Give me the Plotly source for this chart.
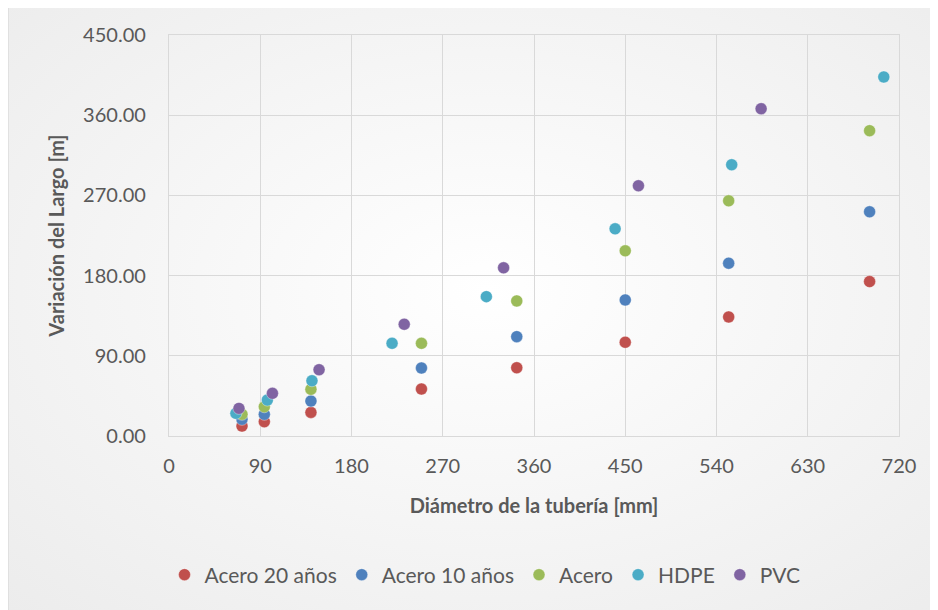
import base64
import plotly.graph_objects as go

# ---- data ----
x_acero = [72, 94, 140, 249, 343, 450, 552, 691]
y_acero20 = [11.1, 16.0, 26.5, 52.7, 76.6, 105.2, 133.6, 173.3]
y_acero10 = [18.7, 24.3, 39.2, 76.3, 111.5, 152.7, 193.9, 251.6]
y_acero = [24.3, 32.8, 52.4, 104.0, 151.6, 207.8, 263.9, 342.6]
x_hdpe = [66, 97, 141, 220, 313, 440, 555, 705]
y_hdpe = [25.4, 40.3, 62.0, 104.0, 156.4, 232.5, 304.4, 402.9]
x_pvc = [69, 102, 148, 232, 330, 463, 584]
y_pvc = [31.0, 47.9, 74.4, 125.4, 188.7, 280.8, 367.3]

series_names = ["Acero 20 años", "Acero 10 años", "Acero", "HDPE", "PVC"]
colors = ["#C0504D", "#4F81BD", "#9BBB59", "#4BACC6", "#8064A2"]
x_ticks = [0, 90, 180, 270, 360, 450, 540, 630, 720]
y_ticks = [0, 90, 180, 270, 360, 450]

FONT = "Lato"
TXT = "#595959"
GRID = "#d9d9d9"

series = [
    (x_acero, y_acero20),
    (x_acero, y_acero10),
    (x_acero, y_acero),
    (x_hdpe, y_hdpe),
    (x_pvc, y_pvc),
]

fig = go.Figure()
for (xs, ys), name, col in zip(series, series_names, colors):
    fig.add_trace(go.Scatter(
        x=xs, y=ys, mode="markers", name=name,
        marker=dict(size=12, color=col, line=dict(width=0.6, color="rgba(255,255,255,0.6)")),
    ))

# soft radial background like the Excel chart area
svg = (
    '<svg xmlns="http://www.w3.org/2000/svg" width="1000" height="700" preserveAspectRatio="none">'
    '<defs><radialGradient id="g" cx="50%" cy="45%" r="75%">'
    '<stop offset="0" stop-color="#ffffff"/><stop offset="1" stop-color="#ebebeb"/>'
    '</radialGradient></defs><rect width="1000" height="700" fill="url(#g)"/></svg>'
)
src = "data:image/svg+xml;base64," + base64.b64encode(svg.encode()).decode()

# the page body adds an 8px offset, so the figure is laid out 8px up/left
OFF = 8
W, H = 938, 610
ML, MR, MT, MB = 169 - OFF, 39 + OFF, 35 - OFF, 174 + OFF
pw, ph = W - ML - MR, H - MT - MB
fx0 = (8 - OFF - ML) / pw
fy1 = (H - MB - (5 - OFF)) / ph
fx1 = (W + 20 - ML) / pw
fy0 = (H - MB - (H + 20)) / ph

fig.add_layout_image(dict(
    source=src, xref="paper", yref="paper", x=fx0, y=fy1,
    sizex=fx1 - fx0, sizey=fy1 - fy0, sizing="stretch", layer="below",
    xanchor="left", yanchor="top",
))
fig.add_shape(type="rect", xref="paper", yref="paper", x0=fx0, x1=fx1, y0=fy0, y1=fy1,
              line=dict(color=GRID, width=1.3), fillcolor="rgba(0,0,0,0)", layer="below")

axis_common = dict(
    showgrid=True, gridcolor=GRID, gridwidth=1.3,
    showline=True, linecolor=GRID, linewidth=1.3, mirror=True,
    zeroline=False, ticks="",
    tickfont=dict(family=FONT, size=20, color=TXT),
)

fig.update_xaxes(
    range=[0, 720], tickvals=x_ticks, ticktext=[str(v) for v in x_ticks],
    ticklabelstandoff=12,
    title=dict(text="<b>Diámetro de la tubería [mm]</b>", font=dict(family=FONT, size=20, color=TXT), standoff=22),
    **axis_common,
)
fig.update_yaxes(
    range=[0, 450], tickvals=y_ticks, ticktext=[f"{v:.2f}" for v in y_ticks],
    ticklabelstandoff=18,
    title=dict(text="<b>Variación del Largo [m]</b>", font=dict(family=FONT, size=20, color=TXT), standoff=13),
    **axis_common,
)

fig.update_layout(
    width=W, height=H,
    margin=dict(l=ML, r=MR, t=MT, b=MB, autoexpand=False),
    paper_bgcolor="#ffffff", plot_bgcolor="rgba(0,0,0,0)",
    font=dict(family=FONT, size=20, color=TXT),
    showlegend=True,
    legend=dict(
        orientation="h", xanchor="center", yanchor="middle",
        x=(485 - OFF - ML) / pw, y=(H - MB - (575 - OFF)) / ph,
        font=dict(family=FONT, size=21, color=TXT),
        bgcolor="rgba(0,0,0,0)", itemwidth=30, traceorder="normal",
    ),
)

fig.write_html("out.html")
